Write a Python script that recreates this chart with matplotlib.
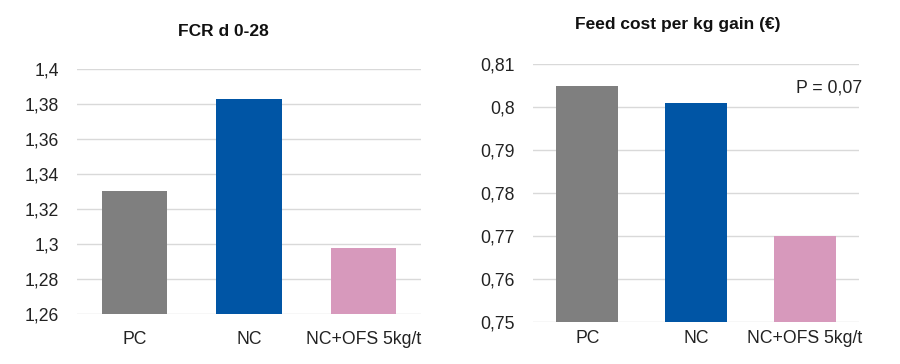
import matplotlib
matplotlib.use("Agg")
import matplotlib.pyplot as plt
from matplotlib.ticker import FuncFormatter

plt.rcParams['font.family'] = ['Liberation Sans', 'DejaVu Sans']

categories = ["PC", "NC", "NC+OFS 5kg/t"]
fcr_values = [1.330, 1.383, 1.298]
cost_values = [0.805, 0.801, 0.770]
fcr_ticks = [1.26, 1.28, 1.30, 1.32, 1.34, 1.36, 1.38, 1.40]
cost_ticks = [0.75, 0.76, 0.77, 0.78, 0.79, 0.80, 0.81]
colors = ["#7f7f7f", "#0055a5", "#d799bc"]
titles = ["FCR d 0-28", "Feed cost per kg gain (€)"]
p_text = "P = 0,07"

fig = plt.figure(figsize=(9, 3.64), dpi=100)
ax1 = fig.add_axes([77/900, 1-314/364, (421-77)/900, (314-69)/364])
ax2 = fig.add_axes([533/900, 1-321.7/364, (859-533)/900, (321.7-64.3)/364])

def fmt(v, pos):
    s = ("%.2f" % v).rstrip('0').rstrip('.')
    return s.replace('.', ',')

for ax, vals, ticks, xpad in [(ax1, fcr_values, fcr_ticks, 12), (ax2, cost_values, cost_ticks, 6)]:
    x = range(len(categories))
    ax.bar(x, vals, width=0.57, color=colors, zorder=2)
    ax.set_ylim(ticks[0], ticks[-1])
    ax.set_xlim(-0.5, len(categories) - 0.5)
    ax.set_yticks(ticks)
    ax.yaxis.set_major_formatter(FuncFormatter(fmt))
    ax.set_xticks(list(x))
    ax.set_xticklabels(categories)
    ax.grid(axis='y', color='#d9d9d9', linewidth=1, zorder=0)
    ax.set_axisbelow(True)
    for s in ax.spines.values():
        s.set_visible(False)
    ax.tick_params(axis='both', length=0, labelsize=12.7, colors='#222222')
    ax.tick_params(axis='y', pad=13)
    ax.tick_params(axis='x', pad=xpad)

fig.text(223/900, 1-31/364, titles[0], ha='center', va='center', fontsize=12.5, fontweight='bold', color='#111111')
fig.text(678/900, 1-25/364, titles[1], ha='center', va='center', fontsize=12.5, fontweight='bold', color='#111111')
ax2.text(862/900, 1-88/364, p_text, transform=fig.transFigure, ha='right', va='center', fontsize=12.7, color='#222222')

fig.savefig("out.png", dpi=100)
